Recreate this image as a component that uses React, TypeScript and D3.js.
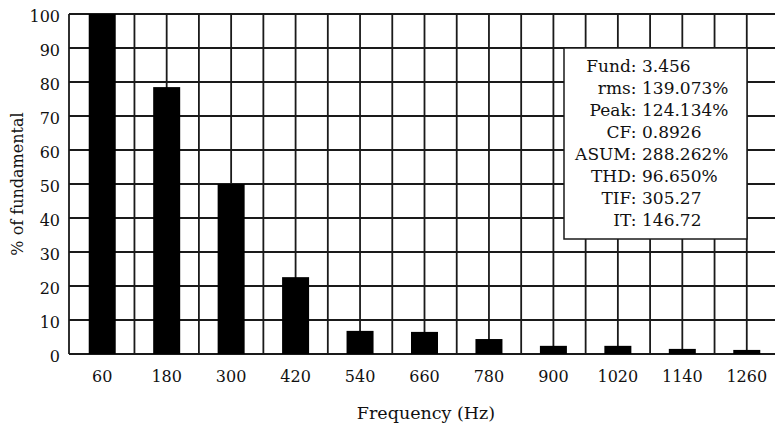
import React from "react";
import * as d3 from "d3";

const frequencies = [60, 180, 300, 420, 540, 660, 780, 900, 1020, 1140, 1260];
const percentValues = [100, 78.5, 50, 22.6, 6.8, 6.5, 4.4, 2.4, 2.4, 1.5, 1.2];
const yTicks = [0, 10, 20, 30, 40, 50, 60, 70, 80, 90, 100];
const statLabels = ["Fund:", "rms:", "Peak:", "CF:", "ASUM:", "THD:", "TIF:", "IT:"];
const statValues = ["3.456", "139.073%", "124.134%", "0.8926", "288.262%", "96.650%", "305.27", "146.72"];

const W = 775;
const H = 427;
const FONT = "'DejaVu Serif', serif";

export default function App() {
  const x = d3.scaleLinear().domain([0, 1320]).range([70, 779]);
  const y = d3.scaleLinear().domain([0, 100]).range([354, 14]);
  const gridX = d3.range(0, 1321, 60);
  const barW = 27;
  const stroke = "#1a1a1a";
  const sw = 1.8;

  const boxX = 564, boxY = 48, boxW = 183, boxH = 191;
  const lineGap = 22.1;
  const firstBase = 71.7;

  return (
    <svg width={W} height={H} style={{ position: "absolute", left: 0, top: 0, background: "#fff" }}>
      <rect x={0} y={0} width={W} height={H} fill="#fff" />
      {/* horizontal grid */}
      {yTicks.map((t) => (
        <line key={"h" + t} x1={69} x2={W} y1={y(t)} y2={y(t)} stroke={stroke} strokeWidth={sw} />
      ))}
      {/* vertical grid */}
      {gridX.map((f) => (
        <line key={"v" + f} x1={f === 0 ? 69 : x(f)} x2={f === 0 ? 69 : x(f)} y1={y(100)} y2={y(0)} stroke={stroke} strokeWidth={sw} />
      ))}
      {/* bars */}
      {frequencies.map((f, i) => (
        <rect
          key={"b" + f}
          x={x(f) - barW / 2}
          y={y(percentValues[i])}
          width={barW}
          height={y(0) - y(percentValues[i])}
          fill="#000"
        />
      ))}
      {/* y tick labels */}
      {yTicks.map((t) => (
        <text key={"yl" + t} x={60} y={y(t) + 7.5} textAnchor="end" fontFamily={FONT} fontSize={16} fill="#111">
          {t}
        </text>
      ))}
      {/* x tick labels */}
      {frequencies.map((f) => (
        <text key={"xl" + f} x={x(f)} y={381.7} textAnchor="middle" fontFamily={FONT} fontSize={16} fill="#111">
          {f}
        </text>
      ))}
      {/* axis titles */}
      <text x={426} y={419} textAnchor="middle" fontFamily={FONT} fontSize={17.5} fill="#111">
        Frequency (Hz)
      </text>
      <text
        transform={`translate(23,184) rotate(-90)`}
        textAnchor="middle"
        fontFamily={FONT}
        fontSize={16}
        fill="#111"
      >
        % of fundamental
      </text>
      {/* stats box */}
      <rect x={boxX} y={boxY} width={boxW} height={boxH} fill="#fff" stroke={stroke} strokeWidth={1.5} />
      {statLabels.map((l, i) => (
        <g key={"s" + i}>
          <text x={636.5} y={firstBase + i * lineGap} textAnchor="end" fontFamily={FONT} fontSize={17} fill="#111">
            {l}
          </text>
          <text x={642} y={firstBase + i * lineGap} textAnchor="start" fontFamily={FONT} fontSize={17} fill="#111">
            {statValues[i]}
          </text>
        </g>
      ))}
    </svg>
  );
}
